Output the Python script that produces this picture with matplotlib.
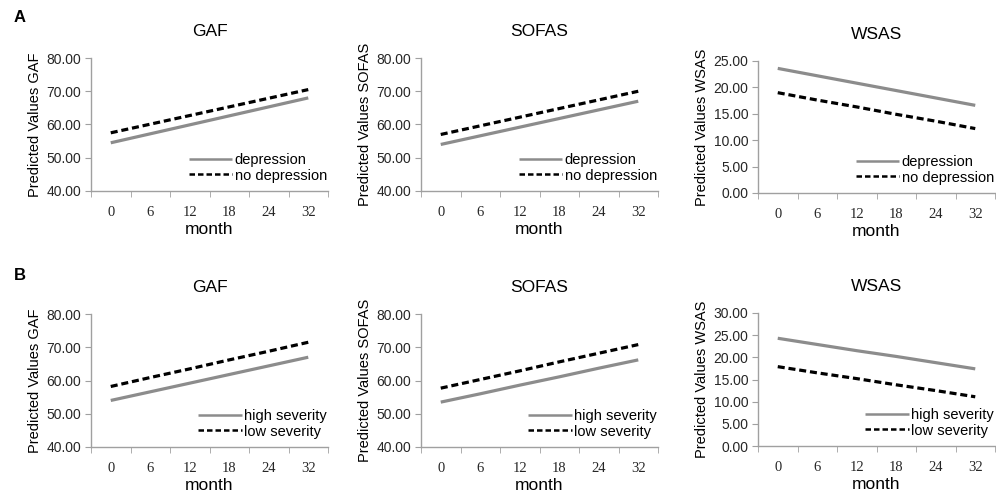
import numpy as np
import matplotlib

matplotlib.use("Agg")
import matplotlib.pyplot as plt

plt.rcParams["font.family"] = ["Liberation Sans", "DejaVu Sans"]

months = ["0", "6", "12", "18", "24", "32"]

# panel A: depression vs no depression
gaf_dep = [54.5, 57.2, 59.9, 62.6, 65.3, 68.0]
gaf_nodep = [57.5, 60.1, 62.7, 65.3, 67.9, 70.5]
sofas_dep = [54.0, 56.6, 59.2, 61.8, 64.4, 67.0]
sofas_nodep = [57.0, 59.6, 62.2, 64.8, 67.4, 70.0]
wsas_dep = [23.6, 22.2, 20.8, 19.4, 18.0, 16.6]
wsas_nodep = [19.0, 17.6, 16.3, 14.9, 13.6, 12.2]

# panel B: high vs low severity
gaf_high = [54.0, 56.6, 59.2, 61.8, 64.4, 67.0]
gaf_low = [58.2, 60.9, 63.5, 66.2, 68.8, 71.5]
sofas_high = [53.5, 56.0, 58.6, 61.1, 63.7, 66.2]
sofas_low = [57.7, 60.3, 62.9, 65.6, 68.2, 70.8]
wsas_high = [24.3, 22.9, 21.5, 20.2, 18.8, 17.4]
wsas_low = [17.9, 16.5, 15.2, 13.8, 12.5, 11.1]

W, H = 996, 496
fig = plt.figure(figsize=(W / 100, H / 100), dpi=100)
fig.patch.set_facecolor("white")

GREY = "#8c8c8c"
SPINE = "#a0a0a0"
TXT = "#262626"


def px_axes(left, top, right, bottom):
    return fig.add_axes([left / W, 1 - bottom / H, (right - left) / W, (bottom - top) / H])


def panel(ax, title, solid, dashed, labels, ylim, ystep):
    x = np.arange(len(months))
    ax.plot(x, solid, color=GREY, linewidth=2.3, label=labels[0], solid_capstyle="butt")
    ax.plot(x, dashed, color="black", linewidth=2.3, linestyle=(0, (2.2, 1.2)), label=labels[1])
    ax.set_xlim(-0.5, len(months) - 0.5)
    ax.set_ylim(*ylim)
    yt = np.arange(ylim[0], ylim[1] + 0.01, ystep)
    ax.set_yticks(yt)
    ax.set_yticklabels([f"{v:.2f}" for v in yt])
    ax.set_xticks(x)
    ax.set_xticklabels(months, family=["Liberation Serif", "DejaVu Serif"], fontsize=10.5)
    ax.set_xticks(np.arange(-0.5, len(months)), minor=True)
    ax.tick_params(axis="x", which="major", length=0, pad=11, colors=TXT)
    ax.tick_params(axis="x", which="minor", length=4, color=SPINE, direction="out")
    ax.tick_params(axis="y", length=4, color=SPINE, labelsize=10, colors=TXT, pad=3)
    for side in ("top", "right"):
        ax.spines[side].set_visible(False)
    for side in ("left", "bottom"):
        ax.spines[side].set_color(SPINE)
        ax.spines[side].set_linewidth(1.0)
    ax.set_title(title, fontsize=12.5, pad=16, color="black")
    ax.set_xlabel("month", fontsize=12.5, labelpad=2, color="black")
    ax.set_ylabel(f"Predicted Values {title}", fontsize=10.5, labelpad=3, color="black")
    leg = ax.legend(loc="lower right", bbox_to_anchor=(1.02, 0.02), frameon=False, fontsize=10.5,
                    handlelength=3.0, handletextpad=0.15, labelspacing=0.1, borderaxespad=0.0)
    for line in leg.get_lines():
        line.set_linewidth(1.8)


cols = [(91, 328), (421, 658), (758, 995)]
rows_a = [(58, 191), (58, 191), (61, 193)]
rows_b = [(314, 447), (314, 447), (313, 446)]

dep_labels = ["depression", "no depression"]
sev_labels = ["high severity", "low severity"]

axA = [px_axes(c[0], r[0], c[1], r[1]) for c, r in zip(cols, rows_a)]
axB = [px_axes(c[0], r[0], c[1], r[1]) for c, r in zip(cols, rows_b)]

panel(axA[0], "GAF", gaf_dep, gaf_nodep, dep_labels, (40, 80), 10)
panel(axA[1], "SOFAS", sofas_dep, sofas_nodep, dep_labels, (40, 80), 10)
panel(axA[2], "WSAS", wsas_dep, wsas_nodep, dep_labels, (0, 25), 5)
panel(axB[0], "GAF", gaf_high, gaf_low, sev_labels, (40, 80), 10)
panel(axB[1], "SOFAS", sofas_high, sofas_low, sev_labels, (40, 80), 10)
panel(axB[2], "WSAS", wsas_high, wsas_low, sev_labels, (0, 30), 5)

fig.text(14 / W, 1 - 18 / H, "A", fontsize=12, fontweight="bold", va="center", ha="left")
fig.text(14 / W, 1 - 275 / H, "B", fontsize=12, fontweight="bold", va="center", ha="left")

fig.savefig("out.png", dpi=100)
plt.close(fig)
